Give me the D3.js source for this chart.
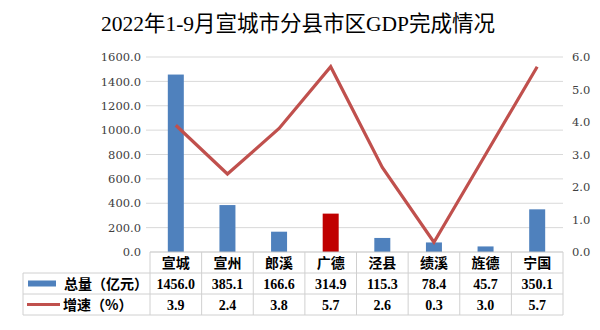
<!DOCTYPE html>
<html><head><meta charset="utf-8">
<script src="https://cdn.jsdelivr.net/npm/d3@7"></script>
<style>
html,body{margin:0;padding:0;background:#fff;}
svg{display:block;}
</style></head>
<body>
<svg id="chart" width="600" height="330"></svg>
<script>
// 2022年1-9月各县市区GDP
const categories = ["宣城","宣州","郎溪","广德","泾县","绩溪","旌德","宁国"];
const totals = [1456.0, 385.1, 166.6, 314.9, 115.3, 78.4, 45.7, 350.1];
const growth = [3.9, 2.4, 3.8, 5.7, 2.6, 0.3, 3.0, 5.7];
const leftTicks = [0,200,400,600,800,1000,1200,1400,1600];
const rightTicks = [0,1,2,3,4,5,6];
const seriesNames = ["总量（亿元）","增速（%）"];
const highlight = "广德";

const svg = d3.select("#chart");
const serif = "'Liberation Serif','Noto Sans CJK SC',serif";
const tickFont = "'DejaVu Serif','Liberation Serif',serif";
const cjk = "'Noto Sans CJK SC','Liberation Serif',sans-serif";

const x0 = 150, x1 = 563, yTop = 57, yBot = 252;
const x = d3.scaleBand().domain(categories).range([x0, x1]);
const yL = d3.scaleLinear().domain([0,1600]).range([yBot, yTop]);
const yR = d3.scaleLinear().domain([0,6]).range([yBot, yTop]);

// title
svg.append("text").attr("x", 298).attr("y", 31).attr("text-anchor","middle")
  .attr("font-family", serif).attr("font-size", 21.5).attr("fill","#000")
  .text("2022年1-9月宣城市分县市区GDP完成情况");

// gridlines
svg.append("g").selectAll("line").data(leftTicks.slice(1)).join("line")
  .attr("x1", x0-4).attr("x2", x1).attr("y1", d=>yL(d)).attr("y2", d=>yL(d))
  .attr("stroke","#d9d9d9").attr("stroke-width",1);

// left axis
const gl = svg.append("g").attr("transform",`translate(${x0},0)`)
  .call(d3.axisLeft(yL).tickValues(leftTicks).tickFormat(d3.format(".1f")).tickSize(0).tickPadding(9));
gl.select(".domain").remove();
gl.selectAll("text").attr("font-family", tickFont).attr("font-size", 11.5).attr("fill","#404040");

// right axis
const gr = svg.append("g").attr("transform",`translate(${x1},0)`)
  .call(d3.axisRight(yR).tickValues(rightTicks).tickFormat(d3.format(".1f")).tickSize(0).tickPadding(9));
gr.select(".domain").remove();
gr.selectAll("text").attr("font-family", tickFont).attr("font-size", 11.5).attr("fill","#404040");

// bars
const bw = 16;
svg.append("g").selectAll("rect").data(categories).join("rect")
  .attr("x", (d)=>x(d)+x.bandwidth()/2-bw/2)
  .attr("width", bw)
  .attr("y", (d,i)=>yL(totals[i]))
  .attr("height", (d,i)=>yBot-yL(totals[i]))
  .attr("fill", d=> d===highlight ? "#C00000" : "#4F81BD");

// growth line
const line = d3.line().x((d,i)=>x(categories[i])+x.bandwidth()/2).y(d=>yR(d));
svg.append("path").datum(growth).attr("d", line)
  .attr("fill","none").attr("stroke","#C0504D").attr("stroke-width",3.2)
  .attr("stroke-linejoin","miter");

// data table
const rowY = [252, 273, 294, 315];
const tx0 = 23;
const tg = svg.append("g");
const border = "#d0d0d0";
tg.append("line").attr("x1",x0).attr("x2",x1).attr("y1",rowY[0]).attr("y2",rowY[0]).attr("stroke","#bfbfbf");
[1,2,3].forEach(r=>{
  tg.append("line").attr("x1",tx0).attr("x2",x1).attr("y1",rowY[r]).attr("y2",rowY[r]).attr("stroke",border);
});
tg.append("line").attr("x1",tx0).attr("x2",tx0).attr("y1",rowY[1]).attr("y2",rowY[3]).attr("stroke",border);
const vx = categories.map(c=>x(c)).concat([x1]);
tg.selectAll("line.v").data(vx).join("line").attr("class","v")
  .attr("x1",d=>d).attr("x2",d=>d).attr("y1",rowY[0]).attr("y2",rowY[3]).attr("stroke",border);

// category names
tg.selectAll("text.cat").data(categories).join("text").attr("class","cat")
  .attr("x", d=>x(d)+x.bandwidth()/2).attr("y", (rowY[0]+rowY[1])/2+5)
  .attr("text-anchor","middle").attr("font-family",cjk).attr("font-size",14).attr("font-weight","bold")
  .attr("fill","#000").text(d=>d);
// totals row
tg.selectAll("text.tot").data(totals).join("text").attr("class","tot")
  .attr("x", (d,i)=>x(categories[i])+x.bandwidth()/2).attr("y", (rowY[1]+rowY[2])/2+5)
  .attr("text-anchor","middle").attr("font-family",serif).attr("font-size",14).attr("font-weight","bold")
  .attr("fill","#000").text(d=>d3.format(".1f")(d));
// growth row
tg.selectAll("text.gr").data(growth).join("text").attr("class","gr")
  .attr("x", (d,i)=>x(categories[i])+x.bandwidth()/2).attr("y", (rowY[2]+rowY[3])/2+5)
  .attr("text-anchor","middle").attr("font-family",serif).attr("font-size",14).attr("font-weight","bold")
  .attr("fill","#000").text(d=>d3.format(".1f")(d));

// legend keys
tg.append("rect").attr("x",28).attr("y",(rowY[1]+rowY[2])/2-3).attr("width",28).attr("height",6).attr("fill","#4F81BD");
tg.append("line").attr("x1",27).attr("x2",60).attr("y1",(rowY[2]+rowY[3])/2).attr("y2",(rowY[2]+rowY[3])/2)
  .attr("stroke","#C0504D").attr("stroke-width",3);
tg.append("text").attr("x",64).attr("y",(rowY[1]+rowY[2])/2+5).attr("font-family",cjk).attr("font-size",14)
  .attr("font-weight","bold").attr("fill","#000").text(seriesNames[0]);
tg.append("text").attr("x",63).attr("y",(rowY[2]+rowY[3])/2+5).attr("font-family",cjk).attr("font-size",14)
  .attr("font-weight","bold").attr("fill","#000").text(seriesNames[1]);
</script>
</body></html>
